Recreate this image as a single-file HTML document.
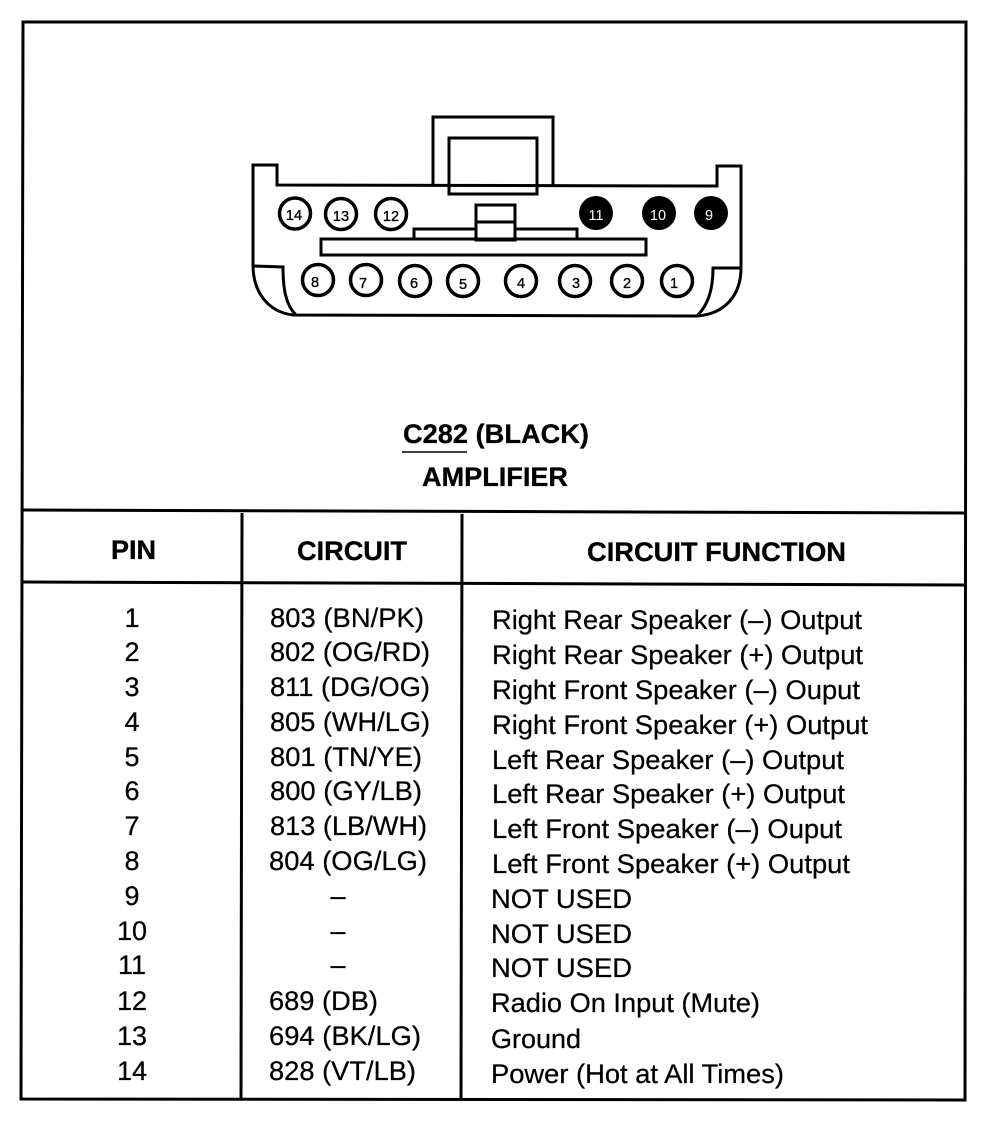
<!DOCTYPE html>
<html><head><meta charset="utf-8"><style>
html,body{margin:0;padding:0;background:#fff;width:984px;height:1136px;overflow:hidden}
svg{display:block}
text{font-family:"Liberation Sans",sans-serif;fill:#000}
.h{font-weight:bold;font-size:27px;stroke:#000;stroke-width:.3px}
.b{font-size:27px;stroke:#000;stroke-width:.25px}
.n{font-size:14.5px;text-anchor:middle;stroke:#000;stroke-width:.35px}
.w{fill:#fff;text-anchor:middle;font-size:14.5px}
</style></head><body>
<svg width="984" height="1136" viewBox="0 0 984 1136" xmlns="http://www.w3.org/2000/svg">
<g fill="none" stroke="#000" stroke-width="3">
<path d="M23 22L966 22L965 1100L21 1099Z"/>
<path d="M23 510L965 513"/>
<path d="M23 582L965 585"/>
<path d="M242 513L241 1099"/>
<path d="M462 514L461 1100"/>
</g>
<g fill="none" stroke="#000" stroke-width="3">
<path d="M253 165L277 165L277 185L717 186L717 166L741 166L741 268C741 295 725 314 697 316L293 315C268 312 253 292 253 265Z"/>
<path d="M253 266L283 267C283 290 286 305 296 315"/>
<path d="M741 268L713 268C713 290 708 305 697 316"/>
<path d="M433 185L433 117L553 117L553 185"/>
<rect x="449" y="138" width="88" height="56"/>
<rect x="476" y="205" width="39" height="35"/>
<path d="M476 222L515 222"/>
<path d="M414 239L414 229L476 229M515 229L577 229L577 239"/>
<rect x="321" y="239" width="325" height="16"/>
</g>
<g fill="#fff" stroke="#000" stroke-width="3.5">
<circle cx="295" cy="213.500" r="15.5"/><circle cx="341" cy="214" r="15.5"/><circle cx="391" cy="214" r="15.5"/>
<circle cx="318" cy="280" r="15.5"/><circle cx="366" cy="280" r="15.5"/><circle cx="415" cy="281" r="15.5"/><circle cx="463" cy="281" r="15.5"/>
<circle cx="521" cy="281" r="15.5"/><circle cx="575" cy="281" r="15.5"/><circle cx="627" cy="281" r="15.5"/><circle cx="677" cy="281" r="15.5"/>
</g>
<g fill="#000">
<circle cx="596" cy="213" r="17"/><circle cx="659" cy="213" r="17"/><circle cx="711" cy="213" r="17"/>
</g>
<text class="n" x="294" y="220">14</text><text class="n" x="341" y="221">13</text><text class="n" x="391" y="221">12</text>
<text class="n" x="315" y="287">8</text><text class="n" x="363" y="288">7</text><text class="n" x="414" y="288">6</text><text class="n" x="463" y="289">5</text>
<text class="n" x="521" y="288">4</text><text class="n" x="576" y="288">3</text><text class="n" x="627" y="288">2</text><text class="n" x="674" y="288">1</text>
<text class="w" x="596" y="220">11</text><text class="w" x="658" y="220">10</text><text class="w" x="709" y="220">9</text>

<text class="h" x="403" y="443" textLength="186" lengthAdjust="spacingAndGlyphs">C282 (BLACK)</text>
<path d="M402 452L467 452" stroke="#000" stroke-width="1.5"/>
<text class="h" x="422" y="486" textLength="146" lengthAdjust="spacingAndGlyphs">AMPLIFIER</text>
<text class="h" x="111" y="559" textLength="45" lengthAdjust="spacingAndGlyphs">PIN</text>
<text class="h" x="297" y="560" textLength="110" lengthAdjust="spacingAndGlyphs">CIRCUIT</text>
<text class="h" x="587" y="561" textLength="259" lengthAdjust="spacingAndGlyphs">CIRCUIT FUNCTION</text>

<g text-anchor="middle">
<text class="b" x="132" y="627">1</text><text class="b" x="132" y="661">2</text><text class="b" x="132" y="696">3</text><text class="b" x="132" y="731">4</text>
<text class="b" x="132" y="766">5</text><text class="b" x="132" y="800">6</text><text class="b" x="132" y="835">7</text><text class="b" x="132" y="870">8</text>
<text class="b" x="132" y="905">9</text><text class="b" x="132" y="940">10</text><text class="b" x="132" y="974">11</text><text class="b" x="132" y="1010">12</text>
<text class="b" x="132" y="1045">13</text><text class="b" x="132" y="1080">14</text>
<text class="b" x="338" y="905">–</text><text class="b" x="338" y="940">–</text><text class="b" x="338" y="974">–</text>
</g>
<text class="b" x="270" y="627" textLength="154" lengthAdjust="spacingAndGlyphs">803 (BN/PK)</text>
<text class="b" x="270" y="661" textLength="160" lengthAdjust="spacingAndGlyphs">802 (OG/RD)</text>
<text class="b" x="270" y="696" textLength="160" lengthAdjust="spacingAndGlyphs">811 (DG/OG)</text>
<text class="b" x="270" y="731" textLength="160" lengthAdjust="spacingAndGlyphs">805 (WH/LG)</text>
<text class="b" x="270" y="766" textLength="152" lengthAdjust="spacingAndGlyphs">801 (TN/YE)</text>
<text class="b" x="270" y="800" textLength="152" lengthAdjust="spacingAndGlyphs">800 (GY/LB)</text>
<text class="b" x="270" y="835" textLength="157" lengthAdjust="spacingAndGlyphs">813 (LB/WH)</text>
<text class="b" x="269" y="870" textLength="158" lengthAdjust="spacingAndGlyphs">804 (OG/LG)</text>
<text class="b" x="269" y="1010" textLength="109" lengthAdjust="spacingAndGlyphs">689 (DB)</text>
<text class="b" x="269" y="1045" textLength="152" lengthAdjust="spacingAndGlyphs">694 (BK/LG)</text>
<text class="b" x="269" y="1080" textLength="147" lengthAdjust="spacingAndGlyphs">828 (VT/LB)</text>

<text class="b" x="492" y="629" textLength="370" lengthAdjust="spacingAndGlyphs">Right Rear Speaker (–) Output</text>
<text class="b" x="492" y="664" textLength="371" lengthAdjust="spacingAndGlyphs">Right Rear Speaker (+) Output</text>
<text class="b" x="492" y="699" textLength="368" lengthAdjust="spacingAndGlyphs">Right Front Speaker (–) Ouput</text>
<text class="b" x="492" y="734" textLength="376" lengthAdjust="spacingAndGlyphs">Right Front Speaker (+) Output</text>
<text class="b" x="492" y="769" textLength="352" lengthAdjust="spacingAndGlyphs">Left Rear Speaker (–) Output</text>
<text class="b" x="492" y="803" textLength="353" lengthAdjust="spacingAndGlyphs">Left Rear Speaker (+) Output</text>
<text class="b" x="492" y="838" textLength="350" lengthAdjust="spacingAndGlyphs">Left Front Speaker (–) Ouput</text>
<text class="b" x="492" y="873" textLength="358" lengthAdjust="spacingAndGlyphs">Left Front Speaker (+) Output</text>
<text class="b" x="491" y="908" textLength="141" lengthAdjust="spacingAndGlyphs">NOT USED</text>
<text class="b" x="491" y="943" textLength="141" lengthAdjust="spacingAndGlyphs">NOT USED</text>
<text class="b" x="491" y="977" textLength="141" lengthAdjust="spacingAndGlyphs">NOT USED</text>
<text class="b" x="491" y="1012" textLength="269" lengthAdjust="spacingAndGlyphs">Radio On Input (Mute)</text>
<text class="b" x="491" y="1048" textLength="90" lengthAdjust="spacingAndGlyphs">Ground</text>
<text class="b" x="491" y="1083" textLength="293" lengthAdjust="spacingAndGlyphs">Power (Hot at All Times)</text>
</svg>
</body></html>
